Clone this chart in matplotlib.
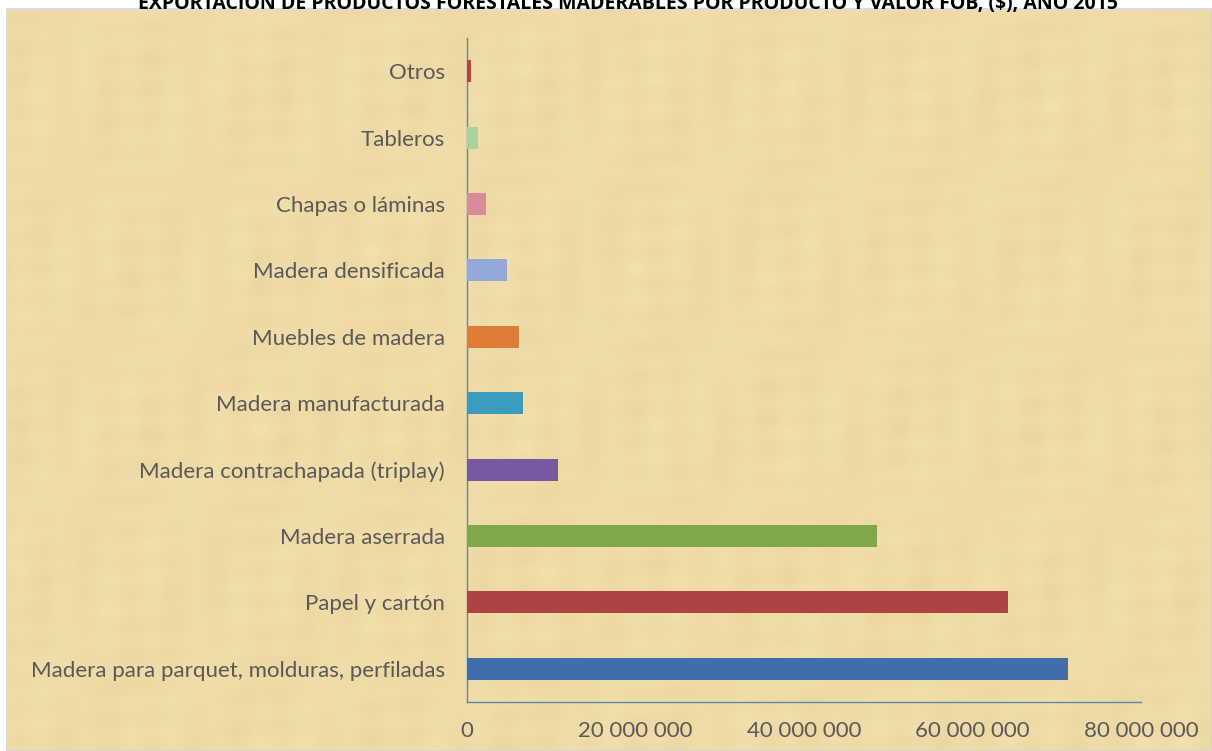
import numpy as np
import matplotlib
matplotlib.use("Agg")
import matplotlib.pyplot as plt
from matplotlib.patches import Rectangle
from matplotlib.ticker import FuncFormatter, MultipleLocator

# ==========================
# Data
# ==========================
productos = [
    "Madera para parquet, molduras, perfiladas",
    "Papel y cartón",
    "Madera aserrada",
    "Madera contrachapada (triplay)",
    "Madera manufacturada",
    "Muebles de madera",
    "Madera densificada",
    "Chapas o láminas",
    "Tableros",
    "Otros",
]
valor_fob = [71300000, 64200000, 48700000, 10800000, 6650000,
             6200000, 4750000, 2250000, 1300000, 500000]
colores = ["#3F6EAB", "#AF4343", "#80A84B", "#7659A0", "#3A9DBE",
           "#E07C38", "#94A9D9", "#D98B9C", "#A8D3A0", "#B8423F"]

titulo = "EXPORTACIÓN DE PRODUCTOS FORESTALES MADERABLES POR PRODUCTO Y VALOR FOB, ($), AÑO 2015"

W, H = 1212, 751
plt.rcParams['font.family'] = ['Lato', 'DejaVu Sans']

fig = plt.figure(figsize=(W / 100, H / 100), dpi=100)
fig.patch.set_facecolor("white")

# papyrus-like background panel
bg = fig.add_axes([8 / W, 0, 1 - 8 / W, 1 - 10 / H])
yy, xx = np.mgrid[0:741, 0:1204]
tex = (0.5 * np.sin(xx / 7.0) * np.sin(yy / 53.0)
       + 0.4 * np.sin(yy / 5.0 + xx / 97.0) * np.cos(xx / 41.0)
       + 0.3 * np.sin(xx / 23.0 + yy / 31.0))
base = np.array([0.95, 0.88, 0.68])
dark = np.array([0.87, 0.78, 0.55])
t = (tex - tex.min()) / (tex.max() - tex.min())
img = base[None, None, :] * (1 - 0.4 * t[..., None]) + dark[None, None, :] * 0.4 * t[..., None]
bg.imshow(np.clip(img, 0, 1), aspect="auto", interpolation="bilinear")
bg.axis("off")
fig.patches.append(Rectangle((7 / W, 0), 1 - 7 / W, 1 - 9 / H, transform=fig.transFigure,
                             fill=False, edgecolor="#D8D2DC", linewidth=1.2, zorder=0.5))

# ==========================
# Chart
# ==========================
ax = fig.add_axes([467 / W, 49 / H, 674 / W, 664 / H])
ax.patch.set_alpha(0)
y = np.arange(len(productos))
ax.barh(y, valor_fob, height=0.33, color=colores, zorder=3)

ax.set_xlim(0, 80000000)
ax.set_ylim(-0.5, len(productos) - 0.5)
ax.xaxis.set_major_locator(MultipleLocator(20000000))
ax.xaxis.set_major_formatter(FuncFormatter(lambda v, p: format(int(v), ",").replace(",", " ")))
ax.set_yticks(y)
ax.set_yticklabels(productos)

for s in ["top", "right"]:
    ax.spines[s].set_visible(False)
for s in ["left", "bottom"]:
    ax.spines[s].set_color("#5A86B8")
    ax.spines[s].set_linewidth(1.0)

ax.tick_params(axis="both", length=0, colors="#595959", labelsize=16)
ax.tick_params(axis="x", pad=14)
ax.tick_params(axis="y", pad=16)

fig.text(628 / W, 1 - 9 / H, titulo, ha="center", va="baseline",
         fontsize=14, fontweight="bold", color="black", family=["Open Sans", "DejaVu Sans"])

fig.savefig("out.png", dpi=100)
